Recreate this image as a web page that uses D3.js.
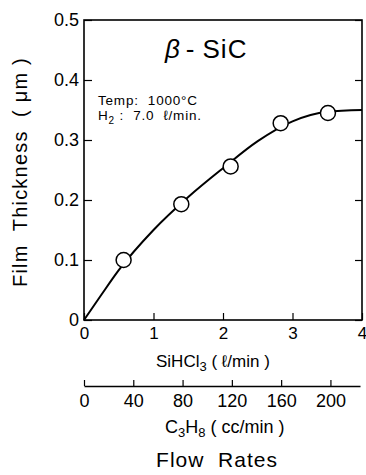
<!DOCTYPE html>
<html>
<head>
<meta charset="utf-8">
<script src="https://cdn.jsdelivr.net/npm/d3@7"></script>
<style>
  body { margin: 0; background: #fff; }
  svg { display: block; font-family: "Liberation Sans", Arial, sans-serif; }
  .tick text { fill: #000; }
</style>
</head>
<body>
<div id="chart"></div>
<script>
// measured points (SiHCl3 flow, film thickness)
const flowSiHCl3 = [0.57, 1.40, 2.11, 2.83, 3.51];
const thickness = [0.100, 0.193, 0.256, 0.328, 0.345];

// fitted curve as drawn in the figure
const curveX = [0, 0.25, 0.5, 1.0, 1.5, 2.0, 2.5, 3.0, 3.5, 4.0];
const curveY = [0, 0.042, 0.083, 0.150, 0.205, 0.253, 0.298, 0.331, 0.347, 0.350];

const xTicks = [0, 1, 2, 3, 4];
const yTicks = [0, 0.1, 0.2, 0.3, 0.4, 0.5];
const c3h8Ticks = [0, 40, 80, 120, 160, 200];

const margin = { top: 20, right: 4, bottom: 155, left: 84 };
const width = 366 - margin.left - margin.right;
const height = 475 - margin.top - margin.bottom;

const svg = d3.select("#chart")
  .append("svg")
  .attr("width", 366)
  .attr("height", 475);

const g = svg.append("g")
  .attr("transform", `translate(${margin.left},${margin.top})`);

const x = d3.scaleLinear().domain([0, 4]).range([0, width]);
const y = d3.scaleLinear().domain([0, 0.5]).range([height, 0]);
const c3h8 = d3.scaleLinear().domain([0, 224]).range([0, 276]);

// left axis
const yAxis = g.append("g")
  .call(d3.axisLeft(y).tickValues(yTicks).tickSizeInner(-8).tickSizeOuter(0).tickPadding(5)
    .tickFormat(d => d === 0 ? "0" : d3.format(".1f")(d)));
yAxis.selectAll("text").style("font-size", "18px");

// right axis, ticks only
g.append("g")
  .attr("transform", `translate(${width},0)`)
  .call(d3.axisRight(y).tickValues(yTicks).tickSizeInner(-7).tickSizeOuter(0).tickFormat(""));

// bottom axis
const xAxis = g.append("g")
  .attr("transform", `translate(0,${height})`)
  .call(d3.axisBottom(x).tickValues(xTicks).tickSizeInner(-7).tickSizeOuter(0).tickPadding(7)
    .tickFormat(d3.format("d")));
xAxis.selectAll("text").style("font-size", "17px");

g.selectAll(".domain").remove();
g.selectAll(".tick line").attr("stroke", "#000").attr("stroke-width", 1.2);

// frame
g.append("rect")
  .attr("width", width)
  .attr("height", height)
  .attr("fill", "none")
  .attr("stroke", "#000")
  .attr("stroke-width", 1.6);

// curve
const line = d3.line()
  .x((d, i) => x(curveX[i]))
  .y(d => y(d))
  .curve(d3.curveMonotoneX);

g.append("path")
  .datum(curveY)
  .attr("d", line)
  .attr("fill", "none")
  .attr("stroke", "#000")
  .attr("stroke-width", 2);

// data circles
g.selectAll(".pt")
  .data(thickness)
  .enter().append("circle")
  .attr("class", "pt")
  .attr("cx", (d, i) => x(flowSiHCl3[i]))
  .attr("cy", d => y(d))
  .attr("r", 7.5)
  .attr("fill", "#fff")
  .attr("stroke", "#000")
  .attr("stroke-width", 1.5);

// title and conditions
const title = svg.append("text")
  .attr("x", 165).attr("y", 58)
  .style("font-size", "26px");
title.append("tspan").text("β").style("font-style", "italic");
title.append("tspan").attr("dx", 6).text("-");
title.append("tspan").attr("dx", 8).style("letter-spacing", "1px").text("SiC");

svg.append("text")
  .attr("x", 98).attr("y", 105)
  .style("font-size", "13.5px")
  .style("letter-spacing", "0.8px")
  .attr("xml:space", "preserve")
  .text("Temp:  1000°C");

const h2 = svg.append("text")
  .attr("x", 98).attr("y", 120)
  .style("font-size", "13.5px")
  .style("letter-spacing", "0.8px")
  .attr("xml:space", "preserve");
h2.append("tspan").text("H");
h2.append("tspan").attr("dy", 4).style("font-size", "10px").text("2");
h2.append("tspan").attr("dy", -4).text(" :  7.0  ℓ/min.");

// y label
svg.append("text")
  .attr("transform", "translate(27,172) rotate(-90)")
  .attr("text-anchor", "middle")
  .style("font-size", "20px")
  .style("letter-spacing", "1.2px")
  .attr("xml:space", "preserve")
  .text("Film  Thickness  ( μm )");

// SiHCl3 label
const sih = svg.append("text")
  .attr("x", 156).attr("y", 367)
  .style("font-size", "17px")
  .attr("xml:space", "preserve");
sih.append("tspan").text("SiHCl");
sih.append("tspan").attr("dy", 4).style("font-size", "13px").text("3");
sih.append("tspan").attr("dy", -4).text(" ( ℓ/min )");

// C3H8 axis
const cAxis = svg.append("g")
  .attr("transform", `translate(${margin.left},386)`)
  .call(d3.axisBottom(c3h8).tickValues(c3h8Ticks).tickSizeInner(-6).tickSizeOuter(0).tickPadding(8));
cAxis.select(".domain").attr("stroke-width", 1.4);
cAxis.selectAll(".tick line").attr("stroke-width", 1.2);
cAxis.selectAll("text").style("font-size", "18px");

const c3 = svg.append("text")
  .attr("x", 165).attr("y", 433)
  .style("font-size", "18px")
  .attr("xml:space", "preserve");
c3.append("tspan").text("C");
c3.append("tspan").attr("dy", 4).style("font-size", "13px").text("3");
c3.append("tspan").attr("dy", -4).text("H");
c3.append("tspan").attr("dy", 4).style("font-size", "13px").text("8");
c3.append("tspan").attr("dy", -4).text(" ( cc/min )");

svg.append("text")
  .attr("x", 217).attr("y", 467)
  .attr("text-anchor", "middle")
  .style("font-size", "21px")
  .style("letter-spacing", "1px")
  .attr("xml:space", "preserve")
  .text("Flow  Rates");
</script>
</body>
</html>
